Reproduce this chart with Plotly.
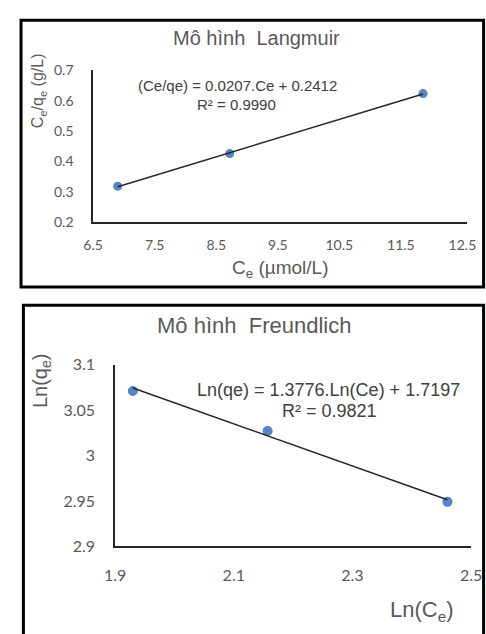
import numpy as np
import plotly.graph_objects as go

# ---- Data ----
lang_ce = [6.9, 8.72, 11.86]
lang_ce_qe = [0.319, 0.426, 0.623]
lang_xticks = [6.5, 7.5, 8.5, 9.5, 10.5, 11.5, 12.5]
lang_yticks = [0.2, 0.3, 0.4, 0.5, 0.6, 0.7]

freu_lnce = [1.93, 2.157, 2.46]
freu_lnqe = [3.071, 3.027, 2.949]
freu_xticks = [1.9, 2.1, 2.3, 2.5]
freu_yticks = [2.9, 2.95, 3.0, 3.05, 3.1]

W, H = 486, 634
def px(x):
    return x / W
def py(y):
    return 1 - y / H

GRAY = "#595959"
DARK = "#404040"
TXT = "Liberation Sans"
TICK = "Lato"

fig = go.Figure()

# Langmuir
fig.add_trace(go.Scatter(x=lang_ce, y=lang_ce_qe, mode="markers",
                         marker=dict(color="#5585c5", size=9),
                         xaxis="x", yaxis="y", showlegend=False))
c1 = np.polyfit(lang_ce, lang_ce_qe, 1)
lx = [min(lang_ce), max(lang_ce)]
fig.add_trace(go.Scatter(x=lx, y=[c1[0] * v + c1[1] for v in lx], mode="lines",
                         line=dict(color="#262626", width=1.5),
                         xaxis="x", yaxis="y", showlegend=False))

# Freundlich
fig.add_trace(go.Scatter(x=freu_lnce, y=freu_lnqe, mode="markers",
                         marker=dict(color="#5585c5", size=10),
                         xaxis="x2", yaxis="y2", showlegend=False))
c2 = np.polyfit(freu_lnce, freu_lnqe, 1)
fx = [min(freu_lnce), max(freu_lnce)]
fig.add_trace(go.Scatter(x=fx, y=[c2[0] * v + c2[1] for v in fx], mode="lines",
                         line=dict(color="#262626", width=1.5),
                         xaxis="x2", yaxis="y2", showlegend=False))

axcommon = dict(showline=True, linecolor="#262626", linewidth=1.5, showgrid=False,
                zeroline=False, ticks="", ticklabeloverflow="allow")

fig.update_layout(
    width=W, height=H, margin=dict(l=0, r=0, t=0, b=0),
    paper_bgcolor="white", plot_bgcolor="white",
    xaxis=dict(domain=[px(86), px(478)], range=[6.5, 12.58], anchor="y",
               tickvals=lang_xticks, ticktext=[str(v) for v in lang_xticks],
               tickfont=dict(family=TICK, size=14, color=GRAY),
               ticklabelstandoff=9, **axcommon),
    yaxis=dict(domain=[py(219), py(62)], range=[0.2, 0.7], anchor="x",
               tickvals=lang_yticks, ticktext=[str(v) for v in lang_yticks],
               tickfont=dict(family=TICK, size=14, color=GRAY),
               ticklabelstandoff=15, **axcommon),
    xaxis2=dict(domain=[px(109), px(482)], range=[1.9, 2.5], anchor="y2",
                tickvals=freu_xticks, ticktext=[str(v) for v in freu_xticks],
                tickfont=dict(family=TICK, size=16, color=GRAY),
                ticklabelstandoff=14, **axcommon),
    yaxis2=dict(domain=[py(553), py(365.5)], range=[2.9, 3.1], anchor="x2",
                tickvals=freu_yticks, ticktext=["2.9", "2.95", "3", "3.05", "3.1"],
                tickfont=dict(family=TICK, size=16, color=GRAY),
                ticklabelstandoff=15, **axcommon),
)

# Borders
fig.add_shape(type="rect", xref="paper", yref="paper",
              x0=px(10.5), y0=py(10.5), x1=px(495), y1=py(285.5),
              line=dict(color="black", width=3), fillcolor="rgba(0,0,0,0)")
fig.add_shape(type="rect", xref="paper", yref="paper",
              x0=px(13), y0=py(304.5), x1=px(495), y1=py(645),
              line=dict(color="black", width=3), fillcolor="rgba(0,0,0,0)")

def ann(text, x, y, size, color=GRAY, angle=0, family=TXT):
    fig.add_annotation(text=text, xref="paper", yref="paper", x=px(x), y=py(y),
                       xanchor="center", yanchor="middle", showarrow=False,
                       textangle=angle, font=dict(family=family, size=size, color=color))

# Langmuir texts
ann("Mô hình  Langmuir", 257, 29, 20)
ann("(Ce/qe) = 0.0207.Ce + 0.2412", 237, 78, 15, DARK)
ann("R² = 0.9990", 236, 97, 15, DARK)
ann("C<sub>e</sub>/q<sub>e</sub> (g/L)", 29, 83, 16, GRAY, -90)
ann("C<sub>e</sub> (µmol/L)", 282, 267, 19)

# Freundlich texts
ann("Mô hình  Freundlich", 255, 325, 22)
ann("Ln(qe) = 1.3776.Ln(Ce) + 1.7197", 333, 392, 18, DARK)
ann("R² = 0.9821", 334, 413, 18, DARK)
ann("Ln(q<sub>e</sub>)", 32, 382, 20, GRAY, -90)
ann("Ln(C<sub>e</sub>)", 430, 620, 22)

fig.write_html("out.html")
